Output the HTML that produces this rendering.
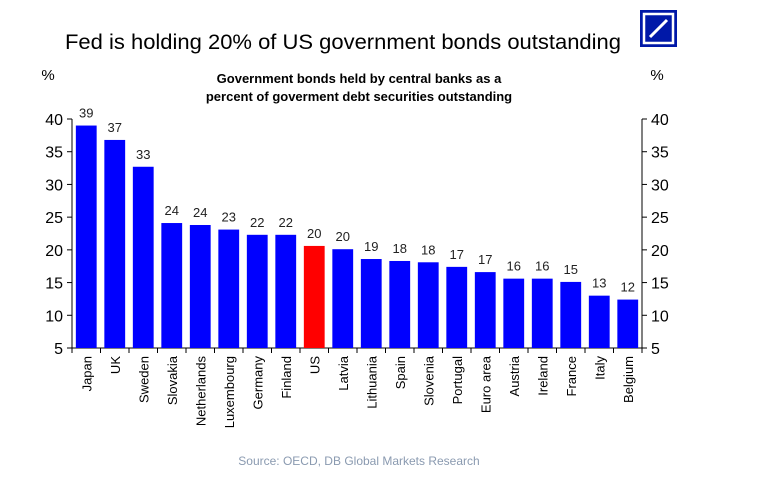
<!DOCTYPE html>
<html><head><meta charset="utf-8"><style>
body{margin:0;background:#fff;}
svg text{font-family:"Liberation Sans",Arial,sans-serif;}
</style></head><body>
<svg id="chart" width="764" height="476" xmlns="http://www.w3.org/2000/svg">
<text x="343" y="49" font-size="21.5" text-anchor="middle" fill="#000" textLength="556" lengthAdjust="spacingAndGlyphs">Fed is holding 20% of US government bonds outstanding</text>
<g>
<rect x="640" y="10" width="37" height="37" fill="#0018a8"/>
<rect x="644" y="14" width="29" height="29" fill="none" stroke="#fff" stroke-width="2.5"/>
<line x1="650" y1="37" x2="667" y2="20" stroke="#fff" stroke-width="3"/>
</g>
<text x="359" y="83" font-size="13" font-weight="bold" text-anchor="middle">Government bonds held by central banks as a</text>
<text x="359" y="101" font-size="13" font-weight="bold" text-anchor="middle">percent of goverment debt securities outstanding</text>
<text x="48" y="80" font-size="15" text-anchor="middle">%</text>
<text x="657" y="80" font-size="15" text-anchor="middle">%</text>
<g id="axes"></g>
<g id="bars"></g>
<text x="359" y="465" font-size="12" fill="#8a9ab0" text-anchor="middle">Source: OECD, DB Global Markets Research</text>
</svg>
<script>
const categories=["Japan","UK","Sweden","Slovakia","Netherlands","Luxembourg","Germany","Finland","US","Latvia","Lithuania","Spain","Slovenia","Portugal","Euro area","Austria","Ireland","France","Italy","Belgium"];
const values=[39.0,36.8,32.7,24.1,23.8,23.1,22.3,22.3,20.6,20.1,18.6,18.3,18.1,17.4,16.6,15.6,15.6,15.1,13.0,12.4];
const labels=["39","37","33","24","24","23","22","22","20","20","19","18","18","17","17","16","16","15","13","12"];
const yTicks=[5,10,15,20,25,30,35,40];
const NS="http://www.w3.org/2000/svg";
const X0=72,X1=642,Y0=348,Y1=119,YMIN=5,YMAX=40;
const n=categories.length, step=(X1-X0)/n;
function y(v){return Y0-(v-YMIN)/(YMAX-YMIN)*(Y0-Y1);}
function x(i){return X0+step*i;}
function mk(tag,attrs,parent){const e=document.createElementNS(NS,tag);for(const k in attrs)e.setAttribute(k,attrs[k]);parent.appendChild(e);return e;}
const axes=document.getElementById('axes'), bars=document.getElementById('bars');
let l=mk('line',{x1:X0,y1:Y1,x2:X0,y2:Y0,stroke:'#000','stroke-width':1},axes);


l=mk('line',{x1:X1,y1:Y1,x2:X1,y2:Y0,stroke:'#000','stroke-width':1},axes);


l=mk('line',{x1:X0-5,y1:Y0,x2:X1+5,y2:Y0,stroke:'#000','stroke-width':1},axes);


yTicks.forEach(t=>{
  const yy=y(t);
  mk('line',{x1:X0-5,y1:yy,x2:X0,y2:yy,stroke:'#000'},axes);
  mk('line',{x1:X1,y1:yy,x2:X1+5,y2:yy,stroke:'#000'},axes);
  let a=mk('text',{x:X0-9,y:yy+6,'font-size':16,'text-anchor':'end'},axes);a.textContent=t;
  
  
  let b=mk('text',{x:X1+9,y:yy+6,'font-size':16},axes);b.textContent=t;
  
  
});
for(let i=0;i<=n;i++){mk('line',{x1:x(i),y1:Y0,x2:x(i),y2:Y0+5,stroke:'#000'},axes);}
const bw=step*0.73;
categories.forEach((c,i)=>{
  const cx=x(i)+step/2, top=y(values[i]);
  const r=mk('rect',{x:cx-bw/2,y:top,width:bw,height:Y0-top,fill:c==="US"?'#ff0000':'#0000ff'},bars);
  
  
  const t=mk('text',{x:cx,y:top-8,'font-size':13,'text-anchor':'middle',fill:'#222'},bars);t.textContent=labels[i];
  
  
  const cl=mk('text',{x:0,y:0,'font-size':13,'text-anchor':'end',transform:`translate(${cx+5},${Y0+8}) rotate(-90)`},bars);cl.textContent=c;
  
  
});
</script>
</body></html>
